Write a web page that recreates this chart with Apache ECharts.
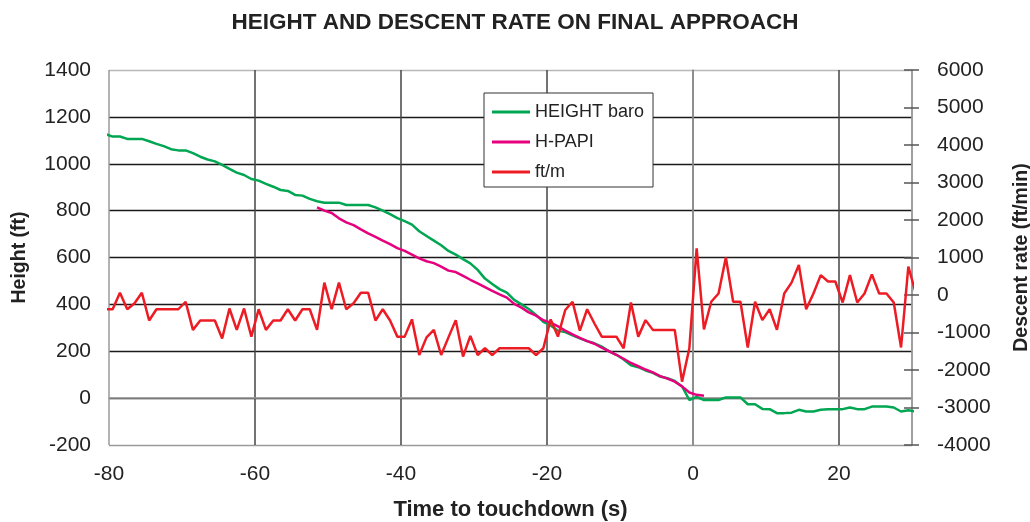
<!DOCTYPE html>
<html>
<head>
<meta charset="utf-8">
<script src="https://cdn.jsdelivr.net/npm/echarts@6/dist/echarts.min.js"></script>
<style>
  html, body { margin: 0; padding: 0; background: #fff; }
  #chart { width: 1030px; height: 522px; }
</style>
</head>
<body>
<div id="chart"></div>
<script>
// Flight recorder data for the last part of the approach, one sample per second.
const FONT = '"Liberation Sans", Arial, Helvetica, sans-serif';

const sampleStart = -80.5;   // time of the first sample, s to touchdown
const sampleStep = 1;        // s between samples

// Barometric height (ft)
const heightBaro = [
  1127, 1116, 1116, 1106, 1106, 1106, 1096, 1085, 1075, 1062,
  1057, 1057, 1045, 1030, 1018, 1010, 995, 978, 962, 952,
  935, 928, 914, 902, 888, 884, 867, 864, 850, 840,
  834, 834, 834, 824, 824, 824, 824, 814, 800, 785,
  768, 755, 740, 712, 692, 672, 652, 628, 612, 593,
  575, 547, 510, 487, 465, 450, 419, 400, 380, 355,
  325, 310, 287, 282, 268, 255, 243, 234, 220, 200,
  185, 165, 140, 132, 118, 108, 92, 85, 73, 50,
  -8, 5, -8, -8, -8, 3, 3, 3, -26, -26,
  -46, -47, -64, -64, -62, -50, -57, -57, -50, -47,
  -47, -47, -40, -47, -47, -36, -36, -36, -40, -57,
  -52, -57
];

// PAPI glide-path height (ft), starts at sample 29
const papiFirstSample = 29;
const heightPapi = [
  814, 800, 790, 767, 750, 738, 720, 703, 688, 672,
  657, 640, 628, 612, 596, 584, 576, 561, 544, 538,
  522, 505, 490, 474, 458, 443, 429, 402, 386, 366,
  352, 332, 322, 306, 288, 272, 257, 243, 232, 215,
  200, 185, 168, 150, 136, 122, 110, 94, 83, 70,
  50, 24, 14, 10
];

// Vertical speed (ft/min)
const descentRate = [
  -380, -380, 60, -380, -220, 60, -680, -380, -380, -380,
  -380, -180, -930, -680, -680, -680, -1160, -360, -930, -360,
  -1110, -380, -930, -680, -680, -380, -680, -380, -380, -930,
  330, -380, 330, -380, -220, 60, 60, -680, -380, -680,
  -1110, -1110, -650, -1600, -1130, -930, -1600, -1130, -670, -1640,
  -1090, -1600, -1420, -1600, -1420, -1420, -1420, -1420, -1420, -1600,
  -1420, -650, -1110, -400, -180, -950, -380, -760, -1110, -1110,
  -1110, -1420, -200, -1110, -670, -930, -930, -930, -930, -2310,
  -1420, 1245, -920, -180, 40, 1000, -180, -180, -1400, -180,
  -670, -380, -930, 40, 330, 800, -380, 40, 530, 360,
  360, -200, 530, -200, 40, 550, 40, 40, -200, -1400,
  760, 60, -180
];

const seriesNames = ['HEIGHT baro', 'H-PAPI', 'ft/m'];
const seriesColors = ['#00A651', '#E6007E', '#ED1C24'];

function toPoints(values, firstIndex) {
  return values.map((v, i) => [sampleStart + (firstIndex + i) * sampleStep, v]);
}

const plain = (v) => String(v);

const chart = echarts.init(document.getElementById('chart'), null, { renderer: 'canvas' });

const hLineColors = ['#9a9a9a', '#1a1a1a', '#1a1a1a', '#1a1a1a', '#1a1a1a', '#1a1a1a', '#1a1a1a', '#1a1a1a', '#b8b8b8'];
const vLineColors = ['#9a9a9a', '#444', '#444', '#444', '#444', '#444'];

chart.setOption({
  animation: false,
  backgroundColor: '#fff',
  textStyle: { fontFamily: FONT },
  title: {
    text: 'HEIGHT AND DESCENT RATE ON FINAL APPROACH',
    left: 'center',
    top: 6,
    textStyle: { fontFamily: FONT, fontSize: 22.5, fontWeight: 'bold', color: '#222' }
  },
  legend: {
    data: seriesNames,
    orient: 'vertical',
    left: 484,
    top: 93,
    icon: 'rect',
    itemWidth: 38,
    itemHeight: 3,
    itemGap: 10,
    padding: [9, 9, 5, 8],
    borderColor: '#333',
    borderWidth: 1,
    backgroundColor: '#fff',
    textStyle: { fontFamily: FONT, fontSize: 18, color: '#222', lineHeight: 20 }
  },
  grid: { left: 109, right: 118, top: 70, bottom: 77, containLabel: false, outerBoundsMode: 'none' },
  xAxis: {
    type: 'value',
    min: -80, max: 30, interval: 20,
    name: 'Time to touchdown (s)',
    nameLocation: 'middle',
    nameGap: 54,
    nameTextStyle: { fontFamily: FONT, fontSize: 22, fontWeight: 'bold', color: '#222' },
    axisLine: { show: true, lineStyle: { color: '#999', width: 1.5 } },
    axisTick: { show: false },
    axisLabel: { fontFamily: FONT, fontSize: 21, color: '#222', margin: 19, showMaxLabel: false, formatter: plain },
    splitLine: { show: true, lineStyle: { color: vLineColors, width: 1.5 } }
  },
  yAxis: [
    {
      type: 'value',
      position: 'left',
      min: -200, max: 1400, interval: 200,
      name: 'Height (ft)',
      nameLocation: 'middle',
      nameGap: 79,
      nameTextStyle: { fontFamily: FONT, fontSize: 19.5, fontWeight: 'bold', color: '#222' },
      axisLine: { show: true, lineStyle: { color: '#999', width: 1.5 } },
      axisTick: { show: false },
      axisLabel: { fontFamily: FONT, fontSize: 21, color: '#222', margin: 18, formatter: plain },
      splitLine: { show: true, lineStyle: { color: hLineColors, width: 1.4 } }
    },
    {
      type: 'value',
      position: 'right',
      min: -4000, max: 6000, interval: 1000,
      name: 'Descent rate (ft/min)',
      nameLocation: 'middle',
      nameGap: 100,
      nameTextStyle: { fontFamily: FONT, fontSize: 19.5, fontWeight: 'bold', color: '#222' },
      axisLine: { show: true, lineStyle: { color: '#999', width: 1.5 } },
      axisTick: { show: true, length: 7, lineStyle: { color: '#555', width: 1.5 } },
      axisLabel: { fontFamily: FONT, fontSize: 21, color: '#222', margin: 25, formatter: plain },
      splitLine: { show: false }
    },
    {
      // inner half of the right-hand tick marks
      type: 'value',
      position: 'right',
      min: -4000, max: 6000, interval: 1000,
      axisLine: { show: false },
      axisTick: { show: true, inside: true, length: 8, lineStyle: { color: '#555', width: 1.5 } },
      axisLabel: { show: false },
      splitLine: { show: false }
    }
  ],
  series: [
    {
      name: seriesNames[0], type: 'line', yAxisIndex: 0,
      data: toPoints(heightBaro, 0),
      showSymbol: false, symbol: 'none', clip: true,
      lineStyle: { color: seriesColors[0], width: 2.5 },
      itemStyle: { color: seriesColors[0] }
    },
    {
      name: seriesNames[1], type: 'line', yAxisIndex: 0,
      data: toPoints(heightPapi, papiFirstSample),
      showSymbol: false, symbol: 'none', clip: true,
      lineStyle: { color: seriesColors[1], width: 2.5 },
      itemStyle: { color: seriesColors[1] }
    },
    {
      name: seriesNames[2], type: 'line', yAxisIndex: 1,
      data: toPoints(descentRate, 0),
      showSymbol: false, symbol: 'none', clip: true,
      lineStyle: { color: seriesColors[2], width: 2.5 },
      itemStyle: { color: seriesColors[2] }
    }
  ]
});
</script>
</body>
</html>
